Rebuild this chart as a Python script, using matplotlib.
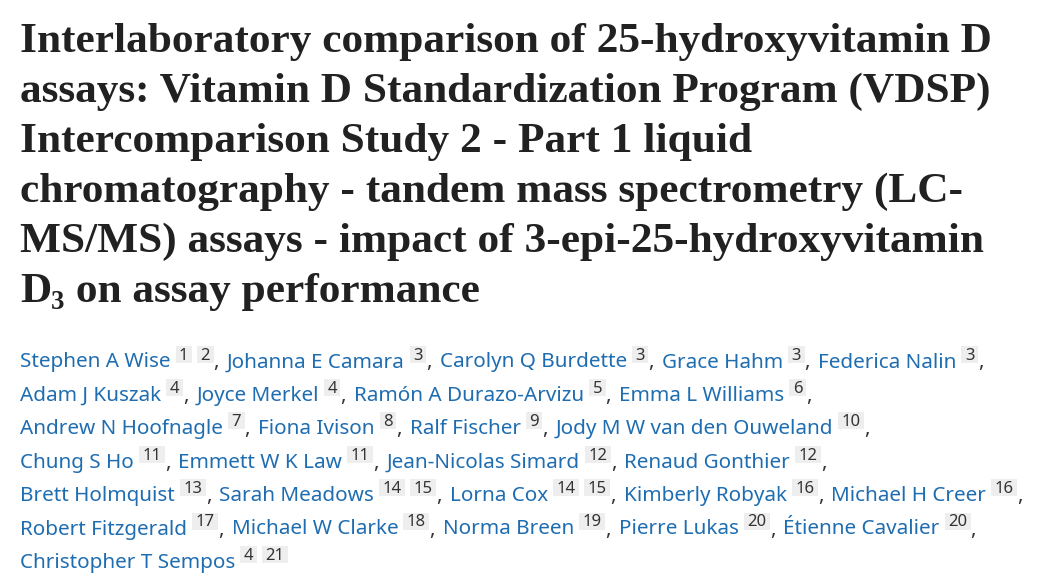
import matplotlib
matplotlib.use("Agg")
import matplotlib.pyplot as plt
from matplotlib.patches import Rectangle

# title text, one entry per displayed line
title_lines = [
    "Interlaboratory comparison of 25-hydroxyvitamin D",
    "assays: Vitamin D Standardization Program (VDSP)",
    "Intercomparison Study 2 - Part 1 liquid",
    "chromatography - tandem mass spectrometry (LC-",
    "MS/MS) assays - impact of 3-epi-25-hydroxyvitamin",
]
title_last = ["D", "3", " on assay performance"]  # D, subscript 3, rest

authors = [
    "Stephen A Wise", "Johanna E Camara", "Carolyn Q Burdette", "Grace Hahm",
    "Federica Nalin", "Adam J Kuszak", "Joyce Merkel", "Ramón A Durazo-Arvizu",
    "Emma L Williams", "Andrew N Hoofnagle", "Fiona Ivison", "Ralf Fischer",
    "Jody M W van den Ouweland", "Chung S Ho", "Emmett W K Law",
    "Jean-Nicolas Simard", "Renaud Gonthier", "Brett Holmquist",
    "Sarah Meadows", "Lorna Cox", "Kimberly Robyak", "Michael H Creer",
    "Robert Fitzgerald", "Michael W Clarke", "Norma Breen", "Pierre Lukas",
    "Étienne Cavalier", "Christopher T Sempos",
]
affiliations = [
    [1, 2], [3], [3], [3], [3], [4], [4], [5], [6], [7], [8], [9], [10],
    [11], [11], [12], [12], [13], [14, 15], [14, 15], [16], [16], [17],
    [18], [19], [20], [20], [4, 21],
]
row_ends = [5, 9, 13, 17, 22, 27, 28]

W, H = 1051, 582
fig = plt.figure(figsize=(W / 100, H / 100), dpi=100)
ax = fig.add_axes([0, 0, 1, 1])
ax.set_xlim(0, W)
ax.set_ylim(H, 0)
ax.axis("off")
r = fig.canvas.get_renderer()

TITLE_C = "#212121"
LINK_C = "#1f6db1"
SUP_C = "#333333"
BOX_C = "#eeeeee"
x0 = 20


def width(t):
    return t.get_window_extent(r).width


# --- title: fit font size so the first line is ~970 px wide
tfont = dict(family="Liberation Serif", weight="bold", color=TITLE_C)
probe = ax.text(0, 0, title_lines[0], fontsize=30, **tfont)
tsize = 30 * 970 / width(probe)
probe.remove()

base = 52
for i, line in enumerate(title_lines):
    ax.text(x0, base + 50 * i, line, fontsize=tsize, va="baseline", **tfont)

y = base + 50 * len(title_lines)
t = ax.text(x0, y, title_last[0], fontsize=tsize, va="baseline", **tfont)
x = x0 + width(t)
t = ax.text(x, y + 7, title_last[1], fontsize=tsize * 0.62, va="baseline", **tfont)
x += width(t)
ax.text(x, y, title_last[2], fontsize=tsize, va="baseline", **tfont)

# --- authors
afont = "Noto Sans"
probe = ax.text(0, 0, "Stephen A Wise", fontsize=15, family=afont)
asize = 15 * 151 / width(probe)
probe.remove()
ssize = 12

row_base = 367.5
row_gap = 33.4
start = 0
for row, end in enumerate(row_ends):
    yb = row_base + row_gap * row
    x = x0
    for k in range(start, end):
        t = ax.text(x, yb, authors[k], fontsize=asize, family=afont,
                    color=LINK_C, va="baseline")
        x += width(t) + 5
        for j, a in enumerate(affiliations[k]):
            if j:
                x += 5
            t = ax.text(x + 3.5, yb - 8, str(a), fontsize=ssize, family=afont,
                        color=SUP_C, va="baseline", zorder=3)
            bw = width(t) + 7
            ax.add_patch(Rectangle((x, yb - 22), bw, 17, facecolor=BOX_C,
                                   edgecolor="none", zorder=2))
            x += bw
        if k < len(authors) - 1:
            t = ax.text(x, yb, ",", fontsize=asize, family=afont,
                        color=SUP_C, va="baseline")
            x += width(t) + 8
    start = end

fig.savefig("out.png", dpi=100, facecolor="white")
